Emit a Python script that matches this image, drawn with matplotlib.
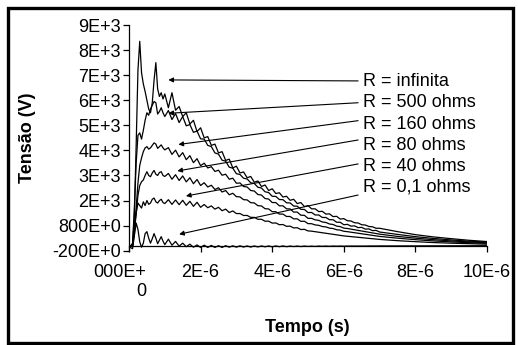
import matplotlib
matplotlib.use('Agg')
import matplotlib.pyplot as plt
import matplotlib.transforms as mtransforms
from matplotlib.patches import Rectangle

plt.rcParams['font.family'] = ['Liberation Sans', 'DejaVu Sans']

# time in microseconds (plotted against the 1E-6 s tick labels)
t_us = [0.00, 0.05, 0.10, 0.15, 0.20, 0.25, 0.30, 0.35, 0.40, 0.45, 0.50,
        0.55, 0.60, 0.65, 0.70, 0.75, 0.80, 0.85, 0.90, 0.95, 1.00,
        1.1, 1.2, 1.3, 1.4, 1.5, 1.6, 1.7, 1.8, 1.9, 2.0,
        2.1, 2.2, 2.3, 2.4, 2.5, 2.6, 2.7, 2.8, 2.9, 3.0,
        3.1, 3.2, 3.3, 3.4, 3.5, 3.6, 3.7, 3.8, 3.9, 4.0,
        4.1, 4.2, 4.3, 4.4, 4.5, 4.6, 4.7, 4.8, 4.9, 5.0,
        5.1, 5.2, 5.3, 5.4, 5.5, 5.6, 5.7, 5.8, 5.9, 6.0,
        6.1, 6.2, 6.3, 6.4, 6.5, 6.6, 6.7, 6.8, 6.9, 7.0,
        7.5, 8.0, 8.5, 9.0, 9.5, 10.0]

v_inf = [0, 0, 50, 1200, 4000, 7000, 8150, 6900, 6450, 6150, 5800,
         5450, 5300, 5700, 6600, 7300, 6250, 5950, 6100, 5850, 6050,
         5500, 6100, 5400, 5550, 5150, 5300, 4850, 5000, 4550, 4700,
         4300, 4350, 4000, 4050, 3700, 3750, 3400, 3450, 3100, 3170,
         2900, 2940, 2710, 2760, 2530, 2580, 2360, 2420, 2200, 2270,
         2080, 2110, 1940, 1970, 1810, 1850, 1680, 1720, 1560, 1600,
         1470, 1470, 1360, 1370, 1260, 1270, 1160, 1170, 1060, 1080,
         995, 985, 915, 905, 835, 825, 765, 755, 695, 695,
         560, 440, 350, 280, 215, 165]

v_500 = [0, 0, 100, 1500, 3300, 4400, 4500, 4250, 4600, 5000, 5300,
         5200, 5450, 5600, 5750, 5700, 5250, 5350, 5500, 5300, 5150,
         5390, 5030, 5270, 4910, 5150, 4780, 4830, 4520, 4570, 4260,
         4250, 4000, 3950, 3700, 3650, 3410, 3370, 3130, 3090, 2870,
         2840, 2690, 2660, 2510, 2480, 2330, 2300, 2150, 2120, 1970,
         1965, 1840, 1835, 1710, 1705, 1580, 1575, 1450, 1445, 1320,
         1325, 1225, 1225, 1125, 1125, 1035, 1035, 935, 935, 835,
         850, 780, 790, 720, 730, 660, 670, 600, 610, 545,
         450, 360, 290, 230, 180, 140]

v_160 = [0, 0, 0, 600, 1500, 2500, 3200, 3500, 3750, 3900, 3950,
         3850, 3900, 4000, 4100, 4050, 3880, 3950, 4020, 3900, 3820,
         3910, 3640, 3810, 3540, 3710, 3430, 3590, 3310, 3470, 3190,
         3290, 3100, 3150, 2960, 3010, 2810, 2850, 2650, 2690, 2490,
         2500, 2360, 2340, 2200, 2180, 2040, 2020, 1880, 1860, 1720,
         1720, 1590, 1590, 1470, 1465, 1340, 1340, 1215, 1210, 1090,
         1090, 1030, 1010, 945, 925, 865, 845, 780, 760, 700,
         685, 660, 635, 610, 585, 560, 535, 510, 485, 460,
         370, 300, 240, 190, 150, 120]

v_80 = [0, 0, 0, 500, 1300, 2000, 2400, 2550, 2620, 2800, 2950,
        2800, 2750, 2900, 3000, 2850, 2800, 2920, 2950, 2800, 2760,
        2880, 2650, 2830, 2600, 2780, 2545, 2710, 2470, 2640, 2400,
        2510, 2340, 2410, 2240, 2310, 2140, 2200, 2030, 2090, 1955,
        1945, 1835, 1825, 1715, 1705, 1595, 1585, 1475, 1465, 1355,
        1355, 1260, 1260, 1165, 1165, 1070, 1070, 970, 975, 880,
        876, 828, 812, 764, 748, 700, 684, 636, 620, 575,
        559, 538, 517, 496, 475, 454, 433, 412, 391, 370,
        300, 240, 190, 150, 120, 95]

v_40 = [0, 0, 0, 700, 1300, 1700, 1600, 1500, 1750, 1600, 1800,
        1650, 1700, 1850, 1900, 1750, 1700, 1800, 1850, 1720, 1680,
        1834, 1648, 1822, 1636, 1810, 1610, 1770, 1570, 1730, 1530,
        1642, 1514, 1586, 1458, 1530, 1394, 1458, 1322, 1386, 1280,
        1282, 1204, 1206, 1128, 1130, 1052, 1054, 976, 978, 900,
        908, 836, 844, 772, 780, 708, 716, 644, 652, 590,
        579, 558, 537, 516, 495, 474, 453, 432, 411, 390,
        376, 362, 348, 334, 320, 306, 292, 278, 264, 250,
        200, 160, 125, 100, 80, 60]

v_01 = [0, -80, -120, 400, 900, 650, 150, -60, 100, 480, 560,
        300, 100, 280, 480, 300, 80, 220, 360, 180, 40,
        260, 20, 170, -20, 100, -40, 60, -60, 30, -70,
        20, -70, 10, -70, 0, -70, 0, -60, -5, -60,
        -5, -55, -10, -55, -10, -50, -10, -45, -10, -45,
        -10, -40, -10, -40, -15, -35, -15, -35, -15, -30,
        -20, -30, -15, -25, -15, -25, -15, -20, -15, -20,
        -15, -15, -15, -15, -15, -15, -12, -12, -12, -10,
        -10, -8, -6, -5, -3, 0]

series = [v_inf, v_500, v_160, v_80, v_40, v_01]
labels = ['R = infinita', 'R = 500 ohms', 'R = 160 ohms',
          'R = 80 ohms', 'R = 40 ohms', 'R = 0,1 ohms']

xticks = [0, 2, 4, 6, 8, 10]
xticklabels = ['000E+\n0', '2E-6', '4E-6', '6E-6', '8E-6', '10E-6']
yticks = [-200, 800, 1800, 2800, 3800, 4800, 5800, 6800, 7800, 8800]
yticklabels = ['-200E+0', '800E+0', '2E+3', '3E+3', '4E+3', '5E+3',
               '6E+3', '7E+3', '8E+3', '9E+3']

# where each arrow points (curve side) and where its label sits
tips = [(1.10, 6610), (1.10, 5280), (1.38, 4035), (1.35, 2980), (1.59, 1980), (1.40, 455)]
tails = [(6.40, 6570), (6.40, 5700), (6.40, 4985), (6.40, 4215), (6.40, 3260), (6.40, 2020)]
label_y = [6540, 5720, 4850, 4010, 3150, 2330]

fig = plt.figure(figsize=(5.18, 3.45), dpi=100)
ax = fig.add_axes([129 / 518, (345 - 250.7) / 345, 358 / 518, (250.7 - 25) / 345])

for v in series:
    ax.plot(t_us, v, color='black', lw=0.9)

for (tx, ty), (sx, sy), ly, lab in zip(tips, tails, label_y, labels):
    ax.annotate('', xy=(tx, ty), xytext=(sx, sy),
                arrowprops=dict(arrowstyle='-|>', color='black', lw=0.8,
                                mutation_scale=7, shrinkA=0, shrinkB=0))
    ax.text(6.54, ly, lab, fontsize=13, ha='left', va='center', clip_on=False)

ax.set_xlim(0, 10)
ax.set_ylim(-200, 8800)
ax.spines['top'].set_visible(False)
ax.spines['right'].set_visible(False)
ax.spines['bottom'].set_position(('data', 0))
ax.spines['left'].set_linewidth(0.9)
ax.spines['bottom'].set_linewidth(0.9)

ax.set_xticks(xticks)
ax.set_xticklabels(xticklabels, multialignment='right')
ax.set_yticks(yticks)
ax.set_yticklabels(yticklabels)
ax.tick_params(direction='out', length=4, width=0.9, labelsize=13, pad=2)
ax.tick_params(axis='x', pad=9)
# first x label sits left of its tick, like the original
first = ax.get_xticklabels()[0]
first.set_transform(first.get_transform() +
                    mtransforms.ScaledTranslation(-0.09, 0, fig.dpi_scale_trans))

fig.text(28 / 518, 1 - 138 / 345, 'Tensão (V)', rotation=90, fontsize=13,
         fontweight='bold', ha='center', va='center')
fig.text(307.5 / 518, 1 - 327.7 / 345, 'Tempo (s)', fontsize=13,
         fontweight='bold', ha='center', va='center')

# outer black frame
fig.patches.append(Rectangle((7.6 / 518, 1.7 / 345), 505.6 / 518, 335.3 / 345,
                             transform=fig.transFigure, fill=False,
                             ec='black', lw=2.4))

fig.savefig('out.png', dpi=100, facecolor='white')
